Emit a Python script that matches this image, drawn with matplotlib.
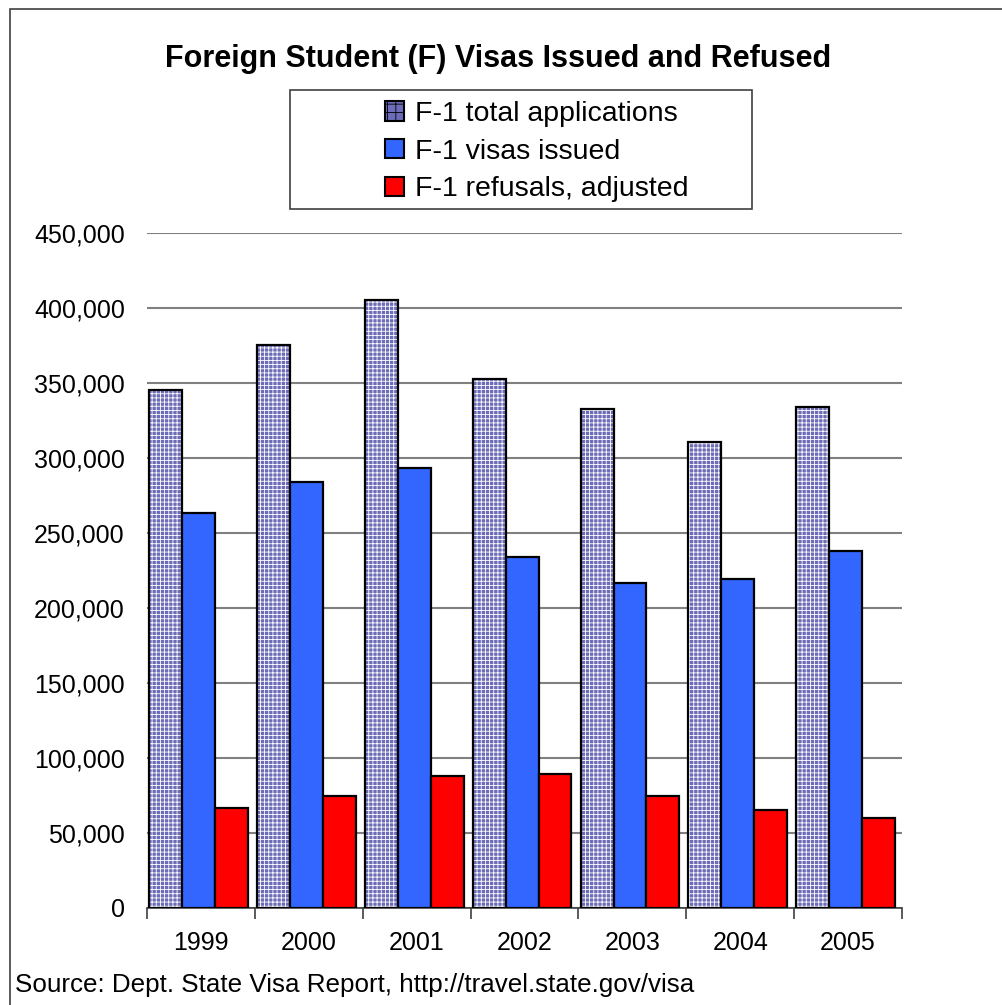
import numpy as np
import matplotlib.pyplot as plt
from matplotlib.patches import Rectangle, Patch
from matplotlib.ticker import FuncFormatter

years = ['1999', '2000', '2001', '2002', '2003', '2004', '2005']
total_apps = [345000, 375500, 405500, 352900, 332900, 310700, 334200]
issued = [263300, 284000, 293300, 233700, 216400, 219100, 237700]
refusals = [66200, 74400, 87700, 89000, 74400, 64900, 59500]

series_names = ['F-1 total applications', 'F-1 visas issued', 'F-1 refusals, adjusted']
apps_color = '#6C6CB8'
issued_color = '#3366FF'
refusal_color = '#FF0000'

plt.rcParams['font.family'] = ['Liberation Sans', 'DejaVu Sans']
plt.rcParams['hatch.linewidth'] = 0.6

W, H = 1002, 1005
fig = plt.figure(figsize=(W / 100, H / 100), dpi=100)

# рамка вокруг всей диаграммы
fig.patches.append(Rectangle((10 / W, -0.01), 1.02, 1 - 9 / H + 0.01,
                             transform=fig.transFigure, fill=False,
                             edgecolor='#404040', linewidth=1.2))

ax = fig.add_axes([147 / W, 1 - 907.5 / H, 755 / W, 674.5 / H])

x = np.arange(len(years))
w = 0.305
shift = -0.022

# клетчатая заливка для общего числа заявок
ax.bar(x + shift - w, total_apps, w, color=apps_color, edgecolor='white',
       hatch='++++', linewidth=0, zorder=3)
ax.bar(x + shift - w, total_apps, w, fill=False, edgecolor='black', linewidth=1.6, zorder=4)
ax.bar(x + shift, issued, w, color=issued_color, edgecolor='black', linewidth=1.6, zorder=4)
ax.bar(x + shift + w, refusals, w, color=refusal_color, edgecolor='black', linewidth=1.6, zorder=4)

ax.set_xlim(-0.5, len(years) - 0.5)
ax.set_ylim(0, 450000)
ax.set_yticks(np.arange(0, 450001, 50000))
ax.yaxis.set_major_formatter(FuncFormatter(lambda v, p: f"{int(v):,}"))
ax.yaxis.grid(True, color='#808080', linewidth=1.5, zorder=0)
ax.set_axisbelow(True)

ax.set_xticks(np.arange(-0.5, len(years), 1))
ax.set_xticklabels([])
ax.set_xticks(x, minor=True)
ax.set_xticklabels(years, minor=True)
ax.tick_params(axis='x', which='major', direction='out', length=8, width=1.2, color='#404040')
ax.tick_params(axis='x', which='minor', length=0, pad=17, labelsize=18)
ax.tick_params(axis='y', length=0, pad=16, labelsize=18)

for s in ['top', 'right', 'left']:
    ax.spines[s].set_visible(False)
ax.spines['bottom'].set_color('#404040')
ax.spines['bottom'].set_linewidth(1.2)

fig.text(498 / W, 1 - 59 / H, 'Foreign Student (F) Visas Issued and Refused',
         ha='center', va='center', fontsize=22, fontweight='bold')

# легенда: рамка отдельно, шире текста
fig.patches.append(Rectangle((290 / W, 1 - 209 / H), 462 / W, 119 / H,
                             transform=fig.transFigure, fill=False,
                             edgecolor='#404040', linewidth=1.2))
handles = [Patch(facecolor=apps_color, edgecolor='black', hatch='++', linewidth=1.5),
           Patch(facecolor=issued_color, edgecolor='black', linewidth=1.5),
           Patch(facecolor=refusal_color, edgecolor='black', linewidth=1.5)]
leg = fig.legend(handles, series_names, loc='upper left', bbox_to_anchor=(385 / W, 1 - 101 / H),
                 fontsize=20.5, frameon=False,
                 handlelength=0.66, handleheight=0.66, handletextpad=0.4,
                 labelspacing=0.41, borderpad=0, borderaxespad=0)

fig.text(15 / W, 1 - 985 / H, 'Source: Dept. State Visa Report, http://travel.state.gov/visa',
         ha='left', va='center', fontsize=18.7)

fig.savefig('out.png', dpi=100, facecolor='white')
